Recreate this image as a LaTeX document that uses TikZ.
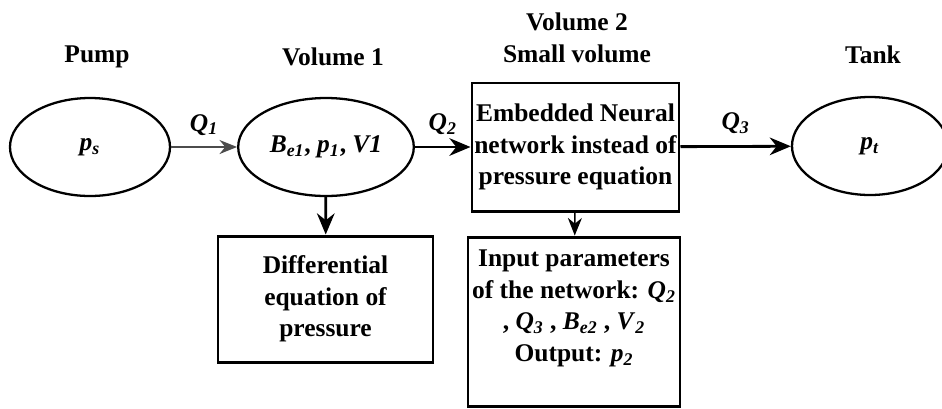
\documentclass[tikz,border=0pt]{standalone}
\usepackage{fontspec}
\setmainfont{Liberation Serif}
\usetikzlibrary{arrows.meta, positioning, shapes.geometric}
\newcommand{\bi}[1]{\textbf{\textit{#1}}}
\newcommand{\var}[2]{\bi{#1}\textsubscript{\bi{#2}}}

\begin{document}
\begin{tikzpicture}[>=Stealth,font=\fontsize{14.5}{18}\selectfont\bfseries,oval/.style={draw, ellipse, line width=1.3pt, minimum width=3.2cm, minimum height=1.96cm},box/.style={draw, line width=1.7pt, align=center, inner xsep=1pt, inner ysep=2pt},title/.style={align=center},thin arrow/.style={->, line width=0.8pt, >={Stealth[length=10pt,width=8pt]}},arrow/.style={->, line width=1.6pt, >={Stealth[length=12pt,width=10pt]}}]
\useasboundingbox (0,0) rectangle (18.84,-8.16);
\node[oval] (pump) at (1.8,-2.94) {\var{p}{s}};
\node[oval, minimum width=3.16cm] (vol1) at (6.52,-2.94) {\var{B}{e1}, \var{p}{1}, \bi{V1}};
\node[box, minimum width=4.14cm, minimum height=2.56cm] (vol2) at (11.51,-2.94) {Embedded Neural\\network instead of\\pressure equation};
\node[oval, minimum width=3.12cm] (tank) at (17.4,-2.92) {\var{p}{t}};
\node[title] (pumplbl) at (1.94,-1.14) {Pump};
\node[title] (vol1lbl) at (6.66,-1.14) {Volume 1};
\node[title] (vol2lbl) at (11.54,-0.75) {Volume 2\\Small volume};
\node[title] (tanklbl) at (17.46,-1.1) {Tank};
\node[box, minimum width=4.3cm, minimum height=2.52cm] (diff) at (6.51,-5.98) {Differential\\equation of\\pressure};
\node[box, minimum width=4.24cm, minimum height=3.38cm] (input) at (11.48,-6.43) {Input parameters\\of the network: \var{Q}{2}\\, \var{Q}{3} , \var{B}{e2} , \var{V}{2}\\Output: \var{p}{2}\\ \mbox{}};
\draw[thin arrow, gray!60!black] (pump) -- node[above=3pt, black] (q1) {\var{Q}{1}} (vol1);
\draw[arrow] (vol1) -- node[above=3pt] (q2) {\var{Q}{2}} (vol2);
\draw[arrow] (vol2) -- node[above=3pt] (q3) {\var{Q}{3}} (tank);
\draw[arrow] (vol1) -- (diff); \draw[thin arrow] (vol2) -- (input);
\end{tikzpicture}
\end{document}
